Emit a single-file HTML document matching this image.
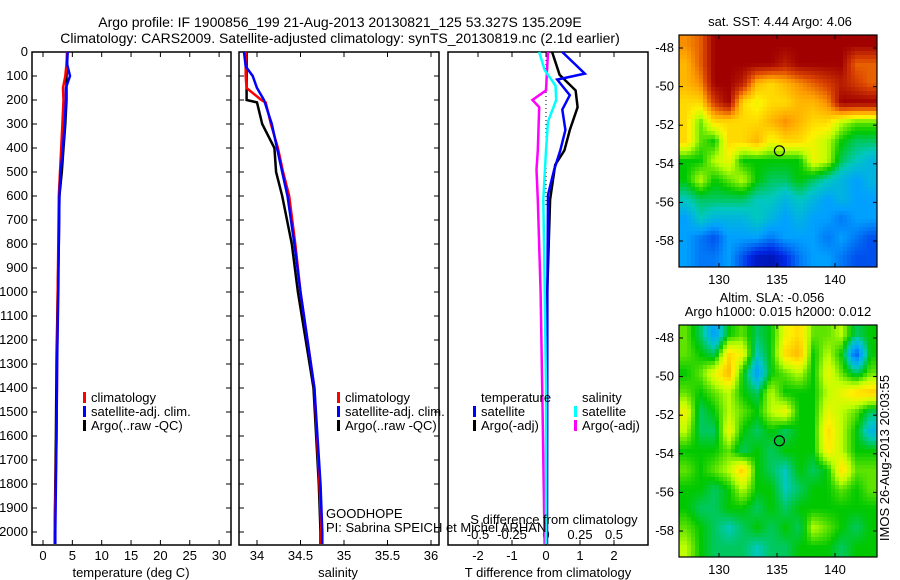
<!DOCTYPE html>
<html><head><meta charset="utf-8"><style>
body{margin:0;background:#fff;}
svg{display:block;font-family:"Liberation Sans",sans-serif;}
text{fill:#000;}
</style></head><body>
<svg id="fig" width="900" height="580" viewBox="0 0 900 580" xmlns="http://www.w3.org/2000/svg">
<text x="340" y="27" font-size="14" text-anchor="middle">Argo profile: IF 1900856_199 21-Aug-2013 20130821_125 53.327S 135.209E</text>
<text x="340" y="43" font-size="14" text-anchor="middle">Climatology: CARS2009. Satellite-adjusted climatology: synTS_20130819.nc (2.1d earlier)</text>
<g id="plots"></g>
</svg>
<script>
// ---- profile data ----
const tDepth = [0,50,100,150,200,300,400,500,600,800,1000,1300,1600,2000,2050];
const tClim  = [4.1,4.0,3.8,3.4,3.5,3.3,3.1,2.9,2.7,2.6,2.5,2.4,2.3,2.0,2.0];
const tSat   = [4.2,4.1,4.6,3.9,3.9,3.7,3.4,3.0,2.8,2.7,2.6,2.4,2.3,2.1,2.1];
const tArgo  = [4.1,4.1,4.0,4.0,4.0,3.8,3.5,3.2,2.8,2.7,2.5,2.3,2.2,2.0,2.0];

const sDepth = [0,60,100,150,200,210,300,400,500,600,800,1000,1400,1800,2000,2050];
const sClim  = [33.87,33.87,33.87,33.88,34.05,34.1,34.16,34.24,34.3,34.37,34.44,34.5,34.66,34.72,34.74,34.74];
const sSat   = [33.85,33.87,33.95,34.0,34.08,34.09,34.17,34.23,34.29,34.35,34.43,34.5,34.66,34.73,34.75,34.75];
const sArgo  = [33.88,33.88,33.88,33.88,33.88,34.0,34.06,34.2,34.22,34.29,34.4,34.47,34.65,34.71,34.73,34.73];

const dtDepth = [0,90,115,180,240,325,410,490,595,1000,2050];
const dtSat   = [0.48,1.14,0.33,0.7,0.48,0.57,0.42,0.24,0.06,0.04,0.03];
const dtArgoDepth = [0,95,160,230,325,410,470,615,1030,2050];
const dtArgo  = [0.18,0.4,0.87,0.93,0.7,0.54,0.27,0.12,0.03,0.01];
const dsSatDepth = [0,75,140,200,290,410,615,950,1400,2050];
const dsSat   = [-0.05,-0.01,0.07,0.075,0.015,0,-0.02,-0.01,0,0];
const dsArgoDepth = [0,160,200,230,410,490,615,1000,1500,2050];
const dsArgo  = [0.015,0,-0.1,-0.05,-0.06,-0.07,-0.06,-0.04,-0.025,-0.01];

const depthTicks = [0,100,200,300,400,500,600,700,800,900,1000,1100,1200,1300,1400,1500,1600,1700,1800,1900,2000];
const tTicks = [0,5,10,15,20,25,30];
const sTicks = [34,34.5,35,35.5,36];
const sTickLabels = ["34","34.5","35","35.5","36"];
const dTTicks = [-2,-1,0,1,2];
const dSTicks = [-0.5,-0.25,0,0.25,0.5];
const dSTickLabels = ["-0.5","-0.25","0","0.25","0.5"];

// ---- map data (colormap index 0..1), rows north->south ----
const sstGrid = [
[0.8,0.85,1,1,1,1,1,1,1,1,1,1,1,1],
[0.75,0.85,1,1,1,1,1,0.95,1,1,1,1,0.85,0.85],
[0.75,0.8,1,1,0.95,0.75,0.7,0.75,0.8,0.85,0.9,0.95,0.9,0.85],
[0.7,0.7,0.9,1,0.7,0.65,0.7,0.7,0.75,0.75,0.8,1,1,1],
[0.7,0.55,0.7,0.7,0.7,0.7,0.75,0.8,0.75,0.7,0.7,0.6,0.55,0.55],
[0.7,0.55,0.5,0.7,0.7,0.75,0.65,0.7,0.7,0.65,0.6,0.5,0.45,0.45],
[0.5,0.5,0.6,0.65,0.5,0.5,0.5,0.5,0.5,0.65,0.6,0.45,0.4,0.35],
[0.5,0.6,0.5,0.55,0.6,0.5,0.45,0.45,0.5,0.45,0.4,0.35,0.3,0.35],
[0.4,0.45,0.45,0.45,0.45,0.4,0.4,0.35,0.4,0.35,0.3,0.35,0.3,0.3],
[0.3,0.4,0.35,0.35,0.35,0.4,0.35,0.3,0.35,0.3,0.3,0.25,0.3,0.3],
[0.3,0.25,0.2,0.3,0.3,0.3,0.25,0.3,0.3,0.3,0.25,0.3,0.25,0.2],
[0.3,0.25,0.25,0.3,0.2,0.1,0.08,0.15,0.25,0.3,0.3,0.25,0.2,0.2]];
const slaGrid = [
[0.55,0.45,0.3,0.5,0.55,0.45,0.5,0.65,0.7,0.55,0.55,0.6,0.45,0.5],
[0.55,0.5,0.45,0.7,0.65,0.4,0.5,0.7,0.75,0.5,0.6,0.5,0.2,0.5],
[0.5,0.55,0.65,0.75,0.5,0.3,0.5,0.55,0.6,0.5,0.65,0.55,0.45,0.55],
[0.55,0.5,0.55,0.6,0.5,0.45,0.6,0.5,0.5,0.5,0.6,0.65,0.7,0.72],
[0.65,0.45,0.5,0.6,0.55,0.5,0.6,0.65,0.5,0.5,0.65,0.6,0.55,0.45],
[0.6,0.45,0.45,0.65,0.5,0.45,0.5,0.45,0.5,0.5,0.7,0.6,0.5,0.35],
[0.5,0.5,0.5,0.55,0.45,0.5,0.45,0.5,0.5,0.5,0.68,0.6,0.5,0.5],
[0.55,0.5,0.55,0.6,0.72,0.5,0.45,0.4,0.5,0.45,0.5,0.7,0.55,0.55],
[0.5,0.5,0.45,0.5,0.6,0.5,0.5,0.4,0.45,0.5,0.5,0.55,0.5,0.55],
[0.5,0.45,0.45,0.5,0.5,0.45,0.5,0.45,0.5,0.5,0.5,0.5,0.5,0.5],
[0.55,0.5,0.45,0.4,0.45,0.5,0.45,0.5,0.45,0.6,0.55,0.5,0.45,0.5],
[0.6,0.5,0.45,0.45,0.45,0.4,0.45,0.45,0.5,0.5,0.5,0.45,0.5,0.5]];
const lonTicks = [130,135,140];
const latTicks = [-48,-50,-52,-54,-56,-58];
const argoLon = 135.209, argoLat = -53.327;

const NS = "http://www.w3.org/2000/svg";
const root = document.getElementById('plots');
function el(tag, attrs, parent){const e=document.createElementNS(NS,tag);for(const k in attrs)e.setAttribute(k,attrs[k]);(parent||root).appendChild(e);return e;}
function txt(x,y,s,anchor,size,name,parent){const t=el('text',{x:x,y:y,'font-size':size||13,'text-anchor':anchor||'start'},parent);t.textContent=s;


return t;}

const TOP=52, BOT=545;
const yD = d => TOP + d*0.24;
const xT = v => 43 + v*5.87;
const xS = v => 257 + (v-34)*87;
const xDT = v => 546 + v*34;
const xDS = v => 546 + v*136;

function frame(x0,x1,name){
  const r=el('rect',{x:x0,y:TOP,width:x1-x0,height:BOT-TOP,fill:'none',stroke:'#000','stroke-width':1.5});
  
  
}
function line(depths, vals, fx, color, name, w){
  const pts = depths.map((d,i)=>fx(vals[i]).toFixed(1)+','+yD(d).toFixed(1)).join(' ');
  const p=el('polyline',{points:pts,fill:'none',stroke:color,'stroke-width':w||2.5});
  
  
}
function xticks(ticks,labels,fx,x0,x1,ly,name,topTicks){
  ticks.forEach((v,i)=>{const x=fx(v);
    el('line',{x1:x,x2:x,y1:BOT,y2:BOT-5,stroke:'#000'});
    if(topTicks) el('line',{x1:x,x2:x,y1:TOP,y2:TOP+5,stroke:'#000'});
    txt(x,ly,labels[i],'middle',13,name);});
}
function legend(x,y,items,name){
  items.forEach((it,i)=>{
    const r=el('rect',{x:x,y:y+i*14-10,width:3,height:11,fill:it[0]});
    
    
    txt(x+8,y+i*14,it[1],'start',13,name+'-label');
  });
}

// panel 1
frame(32,231,'temperature-plot-frame');
depthTicks.forEach(d=>{const y=yD(d);
  el('line',{x1:32,x2:37,y1:y,y2:y,stroke:'#000'});el('line',{x1:226,x2:231,y1:y,y2:y,stroke:'#000'});
  el('line',{x1:239,x2:244,y1:y,y2:y,stroke:'#000'});el('line',{x1:434,x2:439,y1:y,y2:y,stroke:'#000'});
  txt(28,y+4,String(d),'end',13,'depth-tick-label');});
xticks(tTicks,tTicks.map(String),xT,32,231,560,'temperature-tick-label',true);
txt(131,577,'temperature (deg C)','middle',13,'temperature-axis-title');
line(tDepth,tArgo,xT,'#000','temp-argo-line');
line(tDepth,tClim,xT,'#f00','temp-climatology-line');
line(tDepth,tSat,xT,'#00f','temp-satellite-line');
legend(83,402,[['#f00','climatology'],['#00f','satellite-adj. clim.'],['#000','Argo(..raw -QC)']],'temperature-legend');

// panel 2
frame(239,439,'salinity-plot-frame');
xticks(sTicks,sTickLabels,xS,239,439,560,'salinity-tick-label',true);
txt(338,577,'salinity','middle',13,'salinity-axis-title');
line(sDepth,sArgo,xS,'#000','sal-argo-line');
line(sDepth,sClim,xS,'#f00','sal-climatology-line');
line(sDepth,sSat,xS,'#00f','sal-satellite-line');
legend(337,402,[['#f00','climatology'],['#00f','satellite-adj. clim.'],['#000','Argo(..raw -QC)']],'salinity-legend');

// panel 3
frame(448,648,'difference-plot-frame');
dTTicks.forEach(v=>{const x=xDT(v);el('line',{x1:x,x2:x,y1:BOT,y2:BOT-5,stroke:'#000'});el('line',{x1:x,x2:x,y1:TOP,y2:TOP+5,stroke:'#000'});txt(x,560,String(v),'middle',13,'t-diff-tick-label');});
dSTicks.forEach((v,i)=>{txt(xDS(v),539,dSTickLabels[i],'middle',13,'s-diff-tick-label');});
txt(548,577,'T difference from climatology','middle',13,'t-diff-axis-title');
el('line',{x1:xDT(0),x2:xDT(0),y1:TOP,y2:yD(650),stroke:'#000','stroke-dasharray':'1,3'});
line(dtArgoDepth,dtArgo,xDT,'#000','tdiff-argo-line');
line(dtDepth,dtSat,xDT,'#00f','tdiff-satellite-line');
line(dsArgoDepth,dsArgo,xDS,'#f0f','sdiff-argo-line');
line(dsSatDepth,dsSat,xDS,'#0ff','sdiff-satellite-line');
txt(481,402,'temperature','start',13,'tdiff-legend-title');
txt(582,402,'salinity','start',13,'sdiff-legend-title');
legend(473,416,[['#00f','satellite'],['#000','Argo(-adj)']],'tdiff-legend');
legend(574,416,[['#0ff','satellite'],['#f0f','Argo(-adj)']],'sdiff-legend');
txt(326,518,'GOODHOPE','start',13,'project-label');
txt(326,532,'PI: Sabrina SPEICH et Michel ARHAN','start',13,'pi-label');
txt(554,524,'S difference from climatology','middle',13,'s-diff-axis-title');

// maps: custom colormap
const cmStops=[[0,[0,0,128]],[0.15,[0,40,230]],[0.3,[0,160,255]],[0.4,[0,200,190]],[0.5,[0,200,0]],[0.6,[190,255,0]],[0.67,[255,240,0]],[0.78,[255,160,0]],[0.88,[220,70,0]],[1,[160,0,0]]];
function cmap(v){
  v=Math.max(0,Math.min(1,v));
  for(let i=1;i<cmStops.length;i++){ if(v<=cmStops[i][0]){const a=cmStops[i-1],b=cmStops[i],t=(v-a[0])/(b[0]-a[0]);
    return 'rgb('+a[1].map((c,k)=>Math.round(c+(b[1][k]-c)*t)).join(',')+')';}}
  return 'rgb(160,0,0)';
}
function sample(grid,r,c){ // bilinear, r,c in cell-centre coords
  const nr=grid.length,nc=grid[0].length;
  r=Math.max(0,Math.min(nr-1,r));c=Math.max(0,Math.min(nc-1,c));
  const r0=Math.floor(r),c0=Math.floor(c),r1=Math.min(nr-1,r0+1),c1=Math.min(nc-1,c0+1),fr=r-r0,fc=c-c0;
  return grid[r0][c0]*(1-fr)*(1-fc)+grid[r0][c1]*(1-fr)*fc+grid[r1][c0]*fr*(1-fc)+grid[r1][c1]*fr*fc;
}
function map(grid, top, lat48y, name){
  const L=679,R=877,T=top,B=top+232;
  const xL = lon => 719 + (lon-130)*11.6;
  const yL = lat => lat48y + (-48-lat)*19.3;
  const nr=grid.length,nc=grid[0].length,cw=(R-L)/nc,ch=(B-T)/nr;
  const g=el('g',{'shape-rendering':'crispEdges'});
  
  
  const px=4;
  for(let y=T;y<B;y+=px){for(let x=L;x<R;x+=px){
    const v=sample(grid,(y+px/2-T)/ch-0.5,(x+px/2-L)/cw-0.5);
    el('rect',{x:x,y:y,width:Math.min(px,R-x)+0.3,height:Math.min(px,B-y)+0.3,fill:cmap(v)},g);
  }}
  const fr=el('rect',{x:L,y:T,width:R-L,height:B-T,fill:'none',stroke:'#000','stroke-width':1.2});
  
  
  lonTicks.forEach(v=>{const x=xL(v);el('line',{x1:x,x2:x,y1:B,y2:B-4,stroke:'#000'});el('line',{x1:x,x2:x,y1:T,y2:T+4,stroke:'#000'});txt(x,B+17,String(v),'middle',13,name+'-lon-tick');});
  latTicks.forEach(v=>{const y=yL(v);el('line',{x1:L,x2:L+4,y1:y,y2:y,stroke:'#000'});el('line',{x1:R-4,x2:R,y1:y,y2:y,stroke:'#000'});txt(L-5,y+4,String(v),'end',13,name+'-lat-tick');});
  const m=el('circle',{cx:xL(argoLon),cy:yL(argoLat),r:5,fill:'none',stroke:'#000','stroke-width':1.2});
  
  
}
map(sstGrid,35,48,'sst-map');
map(slaGrid,325,338,'sla-map');
txt(780,26,'sat. SST: 4.44  Argo: 4.06','middle',13,'sst-map-title');
txt(772,302,'Altim. SLA: -0.056','middle',13,'sla-map-title');
txt(778,316,'Argo h1000: 0.015 h2000: 0.012','middle',13,'sla-map-subtitle');
const v=txt(0,0,'IMOS 26-Aug-2013 20:03:55','middle',13,'imos-timestamp');
v.setAttribute('transform','translate(889,458) rotate(-90)');
</script>
</body></html>
